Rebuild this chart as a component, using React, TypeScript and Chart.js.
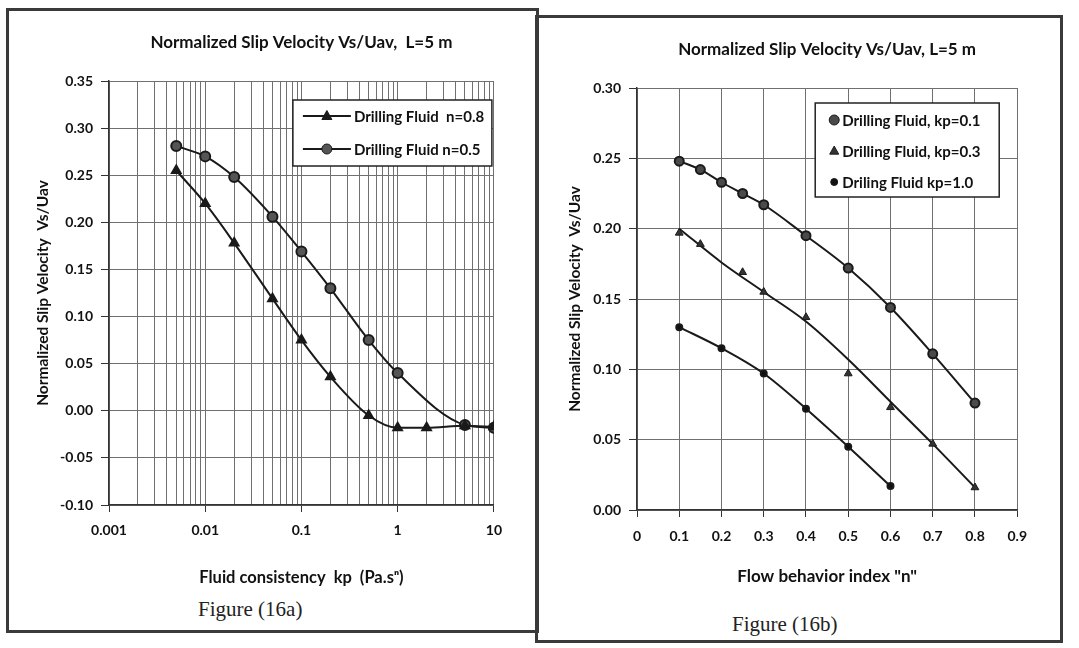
import React, { useEffect, useRef } from 'react';
import { Chart, registerables } from 'chart.js';

Chart.register(...registerables);

const FONT = 'Lato, "Noto Sans", sans-serif';
const INK = '#1a1a1a';
const GRID = '#707070';

// ---------- Figure 16a : slip velocity vs fluid consistency (log x) ----------
const titleA = 'Normalized Slip Velocity Vs/Uav,  L=5 m';
const labelN08 = 'Drilling Fluid  n=0.8';
const labelN05 = 'Drilling Fluid n=0.5';
const kpN08 = [0.005, 0.01, 0.02, 0.05, 0.1, 0.2, 0.5, 1, 2, 5, 10];
const slipN08 = [0.255, 0.22, 0.178, 0.119, 0.075, 0.036, -0.005, -0.018, -0.018, -0.016, -0.017];
const kpN05 = [0.005, 0.01, 0.02, 0.05, 0.1, 0.2, 0.5, 1, 5, 10];
const slipN05 = [0.281, 0.27, 0.248, 0.206, 0.169, 0.13, 0.075, 0.04, -0.015, -0.018];
const decadeValues = [0.001, 0.01, 0.1, 1, 10];
const decadeLabels = ['0.001', '0.01', '0.1', '1', '10'];
const xTitleA = 'Fluid consistency  kp  (Pa.s\u207F)';
const yTitle = 'Normalized Slip Velocity  Vs/Uav';

// ---------- Figure 16b : slip velocity vs flow behaviour index ----------
const titleB = 'Normalized Slip Velocity Vs/Uav, L=5 m';
const labelKp01 = 'Drilling Fluid, kp=0.1';
const labelKp03 = 'Drilling Fluid, kp=0.3';
const labelKp10 = 'Driling Fluid kp=1.0';
const nKp01 = [0.1, 0.15, 0.2, 0.25, 0.3, 0.4, 0.5, 0.6, 0.7, 0.8];
const slipKp01 = [0.248, 0.242, 0.233, 0.225, 0.217, 0.195, 0.172, 0.144, 0.111, 0.076];
const nKp03 = [0.1, 0.15, 0.25, 0.3, 0.4, 0.5, 0.6, 0.7, 0.8];
const slipKp03 = [0.197, 0.189, 0.169, 0.155, 0.137, 0.097, 0.073, 0.047, 0.016];
const nKp03Trend = [0.1, 0.2, 0.3, 0.4, 0.5, 0.6, 0.7, 0.8];
const slipKp03Trend = [0.2, 0.176, 0.155, 0.134, 0.107, 0.077, 0.047, 0.016];
const nKp10 = [0.1, 0.2, 0.3, 0.4, 0.5, 0.6];
const slipKp10 = [0.13, 0.115, 0.097, 0.072, 0.045, 0.017];
const xTitleB = 'Flow behavior index "n"';

const pts = (xs: number[], ys: number[]) => xs.map((x, i) => ({ x, y: ys[i] }));
const fmt2 = (v: any) => {
  const n = Number(v);
  return Math.abs(n) < 1e-9 ? '0.00' : n.toFixed(2);
};

function drawMarker(ctx: CanvasRenderingContext2D, style: string, x: number, y: number, r: number, fill: string) {
  ctx.save();
  ctx.beginPath();
  if (style === 'triangle') {
    ctx.moveTo(x, y - r * 1.1);
    ctx.lineTo(x + r, y + r * 0.7);
    ctx.lineTo(x - r, y + r * 0.7);
    ctx.closePath();
  } else {
    ctx.arc(x, y, r, 0, Math.PI * 2);
  }
  ctx.fillStyle = fill;
  ctx.fill();
  ctx.lineWidth = 1;
  ctx.strokeStyle = INK;
  ctx.stroke();
  ctx.restore();
}

const boxLegend = {
  id: 'boxLegend',
  afterDraw(chart: any, _args: any, opts: any) {
    if (!opts || !opts.width) return;
    const { ctx, chartArea } = chart;
    const left = chartArea.right - opts.right - opts.width;
    const top = chartArea.top + opts.top;
    ctx.save();
    ctx.fillStyle = '#ffffff';
    ctx.fillRect(left, top, opts.width, opts.height);
    ctx.lineWidth = 1.5;
    ctx.strokeStyle = '#222';
    ctx.strokeRect(left, top, opts.width, opts.height);
    const items = chart.data.datasets.filter((d: any) => d.label);
    items.forEach((d: any, i: number) => {
      const y = top + opts.firstRow + i * opts.rowGap;
      if (opts.showLine) {
        ctx.beginPath();
        ctx.moveTo(left + opts.lineFrom, y);
        ctx.lineTo(left + opts.lineTo, y);
        ctx.lineWidth = 2;
        ctx.strokeStyle = INK;
        ctx.stroke();
      }
      const r = opts.markerRadius ? opts.markerRadius[i] : d.pointRadius;
      drawMarker(ctx, d.pointStyle, left + opts.markerX, y, r, d.pointBackgroundColor);
      ctx.fillStyle = '#111';
      ctx.font = `bold ${opts.fontSize}px ${FONT}`;
      ctx.textBaseline = 'middle';
      ctx.textAlign = 'left';
      ctx.fillText(d.label, left + opts.textX, y + 1);
    });
    ctx.restore();
  },
};

const tickFont = { family: FONT, size: 14, weight: 'bold' as const };

export default function App() {
  const refA = useRef<HTMLCanvasElement>(null);
  const refB = useRef<HTMLCanvasElement>(null);

  useEffect(() => {
    const chartA = new Chart(refA.current!, {
      type: 'line',
      data: {
        datasets: [
          {
            label: labelN08,
            data: pts(kpN08, slipN08),
            borderColor: INK,
            borderWidth: 2,
            pointStyle: 'triangle',
            pointRadius: 5,
            pointBackgroundColor: INK,
            pointBorderColor: INK,
            cubicInterpolationMode: 'monotone',
          },
          {
            label: labelN05,
            data: pts(kpN05, slipN05),
            borderColor: INK,
            borderWidth: 2,
            pointStyle: 'circle',
            pointRadius: 5,
            pointBackgroundColor: '#555',
            pointBorderColor: INK,
            cubicInterpolationMode: 'monotone',
          },
        ],
      } as any,
      options: {
        responsive: false,
        animation: false,
        devicePixelRatio: 1,
        layout: { padding: { left: 23.7, right: 15, top: 0, bottom: 0 } },
        plugins: {
          legend: { display: false },
          tooltip: { enabled: false },
          title: {
            display: true,
            text: titleA,
            fullSize: false,
            color: '#111',
            font: { family: FONT, size: 17, weight: 'bold' },
            padding: { top: 20.8, bottom: 27.8 },
          },
          boxLegend: {
            width: 199, height: 66, right: 2, top: 19,
            firstRow: 16, rowGap: 33, showLine: true,
            lineFrom: 10, lineTo: 58, markerX: 34, textX: 61, fontSize: 15,
          },
        } as any,
        scales: {
          x: {
            type: 'logarithmic',
            min: 0.001,
            max: 10,
            afterBuildTicks: (scale: any) => {
              const t: { value: number }[] = [];
              decadeValues.forEach((d, i) => {
                if (i === decadeValues.length - 1) { t.push({ value: d }); return; }
                for (let m = 1; m <= 9; m++) t.push({ value: +(d * m).toPrecision(6) });
              });
              scale.ticks = t;
            },
            afterFit: (scale: any) => { scale.height = 83; },
            ticks: {
              autoSkip: false,
              maxRotation: 0,
              padding: 10,
              color: '#111',
              font: tickFont,
              callback: (v: any) => {
                const idx = decadeValues.findIndex((d) => Math.abs(Math.log10(d) - Math.log10(Number(v))) < 1e-6);
                return idx >= 0 ? decadeLabels[idx] : '';
              },
            },
            grid: {
              color: GRID,
              lineWidth: 1,
              tickLength: 7,
              tickColor: (ctx: any) => {
                const v = ctx.tick ? ctx.tick.value : 0;
                const isDecade = decadeValues.some((d) => Math.abs(Math.log10(d) - Math.log10(v)) < 1e-6);
                return isDecade ? '#333' : 'rgba(0,0,0,0)';
              },
            },
            border: { color: '#333', width: 1.5 },
            title: {
              display: true,
              text: xTitleA,
              color: '#111',
              font: { family: FONT, size: 16.5, weight: 'bold' },
              padding: 0,
            },
          },
          y: {
            type: 'linear',
            min: -0.1,
            max: 0.35,
            afterFit: (scale: any) => { scale.width = 75.3; },
            ticks: {
              stepSize: 0.05,
              padding: 8,
              color: '#111',
              font: tickFont,
              callback: fmt2,
            },
            grid: { color: GRID, lineWidth: 1, tickLength: 8, tickColor: '#333' },
            border: { color: '#333', width: 1.5 },
            title: {
              display: true,
              text: yTitle,
              color: '#111',
              font: { family: FONT, size: 15.5, weight: 'bold' },
              padding: 0,
            },
          },
        },
      },
      plugins: [boxLegend as any],
    });

    const chartB = new Chart(refB.current!, {
      type: 'line',
      data: {
        datasets: [
          {
            label: labelKp01,
            data: pts(nKp01, slipKp01),
            borderColor: INK,
            borderWidth: 2,
            pointStyle: 'circle',
            pointRadius: 4.5,
            pointBackgroundColor: '#4a4a4a',
            pointBorderColor: INK,
            cubicInterpolationMode: 'monotone',
          },
          {
            label: labelKp03,
            data: pts(nKp03, slipKp03),
            showLine: false,
            pointStyle: 'triangle',
            pointRadius: 4.5,
            pointBackgroundColor: '#333',
            pointBorderColor: INK,
          },
          {
            label: labelKp10,
            data: pts(nKp10, slipKp10),
            borderColor: INK,
            borderWidth: 2,
            pointStyle: 'circle',
            pointRadius: 3,
            pointBackgroundColor: '#111',
            pointBorderColor: INK,
            cubicInterpolationMode: 'monotone',
          },
          {
            label: '',
            data: pts(nKp03Trend, slipKp03Trend),
            borderColor: INK,
            borderWidth: 2,
            pointRadius: 0,
            cubicInterpolationMode: 'monotone',
          },
        ],
      } as any,
      options: {
        responsive: false,
        animation: false,
        devicePixelRatio: 1,
        layout: { padding: { left: 20.7, right: 15, top: 0, bottom: 0 } },
        plugins: {
          legend: { display: false },
          tooltip: { enabled: false },
          title: {
            display: true,
            text: titleB,
            fullSize: false,
            color: '#111',
            font: { family: FONT, size: 17, weight: 'bold' },
            padding: { top: 27.8, bottom: 27.8 },
          },
          boxLegend: {
            width: 184, height: 94, right: 18, top: 15,
            firstRow: 17, rowGap: 31, showLine: false,
            markerX: 19, textX: 27, fontSize: 15,
            markerRadius: [5, 4.5, 3.5],
          },
        } as any,
        scales: {
          x: {
            type: 'linear',
            min: 0,
            max: 0.9,
            afterFit: (scale: any) => { scale.height = 77; },
            ticks: {
              stepSize: 0.1,
              padding: 11,
              maxRotation: 0,
              color: '#111',
              font: tickFont,
              callback: (v: any) => { const n = Number(Number(v).toFixed(1)); return n === 0 ? '0' : n.toFixed(1); },
            },
            grid: { color: GRID, lineWidth: 1, tickLength: 7, tickColor: '#333' },
            border: { color: '#333', width: 1.5 },
            title: {
              display: true,
              text: xTitleB,
              color: '#111',
              font: { family: FONT, size: 17, weight: 'bold' },
              padding: 0,
            },
          },
          y: {
            type: 'linear',
            min: 0,
            max: 0.3,
            afterFit: (scale: any) => { scale.width = 71.3; },
            ticks: {
              stepSize: 0.05,
              padding: 8,
              color: '#111',
              font: tickFont,
              callback: fmt2,
            },
            grid: { color: GRID, lineWidth: 1, tickLength: 8, tickColor: '#333' },
            border: { color: '#333', width: 1.5 },
            title: {
              display: true,
              text: yTitle,
              color: '#111',
              font: { family: FONT, size: 15.5, weight: 'bold' },
              padding: 0,
            },
          },
        },
      },
      plugins: [boxLegend as any],
    });

    return () => {
      chartA.destroy();
      chartB.destroy();
    };
  }, []);

  const panel: React.CSSProperties = {
    position: 'absolute',
    border: '3px solid #3a3a3a',
    boxSizing: 'border-box',
    background: 'transparent',
  };
  const figLabel: React.CSSProperties = {
    position: 'absolute',
    fontFamily: '"Liberation Serif", "DejaVu Serif", serif',
    fontSize: 21,
    color: '#222',
    whiteSpace: 'nowrap',
  };

  return (
    <div style={{ position: 'absolute', left: 0, top: 0, width: 1079, height: 648, background: '#fff', overflow: 'hidden' }}>
      <div style={{ ...panel, left: 6, top: 8, width: 533, height: 625 }} />
      <div style={{ ...panel, left: 535, top: 15, width: 528, height: 628 }} />
      <canvas ref={refA} width={502} height={576} style={{ position: 'absolute', left: 10, top: 12, width: 502, height: 576 }} />
      <canvas ref={refB} width={493} height={575} style={{ position: 'absolute', left: 545, top: 12, width: 493, height: 575 }} />
      <div style={{ ...figLabel, left: 198, top: 597 }}>Figure (16a)</div>
      <div style={{ ...figLabel, left: 732, top: 612 }}>Figure (16b)</div>
    </div>
  );
}
